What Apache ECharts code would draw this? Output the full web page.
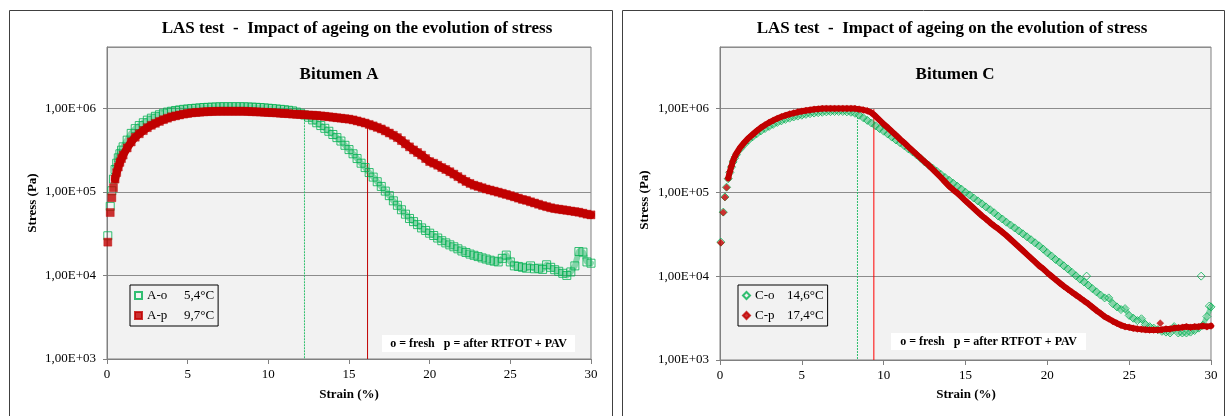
<!DOCTYPE html>
<html>
<head>
<meta charset="utf-8">
<script src="https://cdn.jsdelivr.net/npm/echarts@6.0.0/dist/echarts.min.js"></script>
<style>
html,body{margin:0;padding:0;background:#fff;}
#c{width:1227px;height:416px;}
</style>
</head>
<body>
<div id="c"></div>
<script>
// ---------- DATA ----------
const strain = [0.05,0.2,0.3,0.4,0.5,0.6,0.7,0.8,0.9,
  1,1.25,1.5,1.75, 2,2.25,2.5,2.75, 3,3.25,3.5,3.75, 4,4.25,4.5,4.75,
  5,5.25,5.5,5.75, 6,6.25,6.5,6.75, 7,7.25,7.5,7.75, 8,8.25,8.5,8.75,
  9,9.25,9.5,9.75, 10,10.25,10.5,10.75, 11,11.25,11.5,11.75, 12,12.25,12.5,12.75,
  13,13.25,13.5,13.75, 14,14.25,14.5,14.75, 15,15.25,15.5,15.75, 16,16.25,16.5,16.75,
  17,17.25,17.5,17.75, 18,18.25,18.5,18.75, 19,19.25,19.5,19.75, 20,20.25,20.5,20.75,
  21,21.25,21.5,21.75, 22,22.25,22.5,22.75, 23,23.25,23.5,23.75, 24,24.25,24.5,24.75,
  25,25.25,25.5,25.75, 26,26.25,26.5,26.75, 27,27.25,27.5,27.75, 28,28.25,28.5,28.75,
  29,29.25,29.5,29.75, 30];

// Bitumen A - fresh (A-o, 5,4°C)
const stressAo = [2.98e4,6.7e4,1.03e5,1.42e5,1.85e5,2.2e5,2.55e5,2.85e5,3.15e5,
  3.45e5,4.15e5,5.0e5,5.7e5, 6.2e5,6.7e5,7.2e5,7.6e5, 8.0e5,8.35e5,8.7e5,9.0e5,
  9.2e5,9.4e5,9.55e5,9.7e5, 9.8e5,9.9e5,1.0e6,1.01e6, 1.02e6,1.025e6,1.03e6,1.035e6,
  1.04e6,1.04e6,1.04e6,1.04e6, 1.04e6,1.04e6,1.04e6,1.035e6, 1.03e6,1.025e6,1.02e6,1.01e6,
  1.0e6,9.9e5,9.8e5,9.7e5, 9.6e5,9.45e5,9.3e5,9.0e5, 8.7e5,8.3e5,7.8e5,7.25e5,
  6.7e5,6.2e5,5.75e5,5.3e5, 4.85e5,4.45e5,4.05e5,3.6e5, 3.2e5,2.85e5,2.5e5,2.2e5,
  1.95e5,1.7e5,1.5e5,1.32e5, 1.16e5,1.02e5,9.0e4,7.8e4, 6.9e4,6.1e4,5.4e4,4.8e4,
  4.4e4,4.05e4,3.7e4,3.45e4, 3.2e4,3.0e4,2.8e4,2.6e4, 2.45e4,2.32e4,2.2e4,2.08e4,
  1.96e4,1.88e4,1.8e4,1.74e4, 1.68e4,1.62e4,1.57e4,1.52e4, 1.48e4,1.45e4,1.6e4,1.75e4,
  1.45e4,1.3e4,1.28e4,1.25e4, 1.22e4,1.3e4,1.2e4,1.22e4, 1.18e4,1.34e4,1.25e4,1.17e4,
  1.12e4,1.06e4,1.0e4,1.1e4, 1.3e4,1.93e4,1.9e4,1.45e4, 1.4e4];

// Bitumen A - aged (A-p, 9,7°C)
const stressAp = [2.5e4,5.65e4,8.5e4,1.12e5,1.42e5,1.7e5,1.98e5,2.25e5,2.5e5,
  2.75e5,3.35e5,3.95e5,4.5e5, 4.95e5,5.4e5,5.85e5,6.25e5, 6.6e5,6.95e5,7.3e5,7.6e5,
  7.9e5,8.1e5,8.3e5,8.5e5, 8.65e5,8.8e5,8.9e5,8.96e5, 9.05e5,9.1e5,9.15e5,9.18e5,
  9.2e5,9.2e5,9.2e5,9.2e5, 9.2e5,9.2e5,9.2e5,9.15e5, 9.1e5,9.05e5,9.0e5,8.95e5,
  8.9e5,8.85e5,8.8e5,8.7e5, 8.65e5,8.6e5,8.5e5,8.45e5, 8.4e5,8.35e5,8.3e5,8.25e5,
  8.2e5,8.1e5,8.0e5,7.9e5, 7.8e5,7.7e5,7.6e5,7.5e5, 7.4e5,7.25e5,7.05e5,6.85e5,
  6.65e5,6.4e5,6.15e5,5.9e5, 5.65e5,5.35e5,5.05e5,4.75e5, 4.45e5,4.1e5,3.75e5,3.45e5,
  3.17e5,2.95e5,2.75e5,2.5e5, 2.3e5,2.2e5,2.08e5,1.95e5, 1.85e5,1.74e5,1.63e5,1.52e5,
  1.42e5,1.33e5,1.26e5,1.2e5, 1.16e5,1.12e5,1.08e5,1.05e5, 1.02e5,9.9e4,9.6e4,9.3e4,
  9.0e4,8.7e4,8.4e4,8.1e4, 7.9e4,7.6e4,7.35e4,7.1e4, 6.85e4,6.65e4,6.45e4,6.3e4,
  6.2e4,6.1e4,6.0e4,5.9e4, 5.8e4,5.7e4,5.55e4,5.4e4, 5.3e4];

// Bitumen C - fresh (C-o, 14,6°C)
const stressCo = [2.55e4,5.8e4,8.8e4,1.15e5,1.45e5,1.72e5,2.0e5,2.3e5,2.55e5,
  2.8e5,3.3e5,3.75e5,4.2e5, 4.6e5,5.0e5,5.4e5,5.75e5, 6.1e5,6.45e5,6.8e5,7.1e5,
  7.4e5,7.65e5,7.9e5,8.1e5, 8.3e5,8.5e5,8.65e5,8.8e5, 8.9e5,9.0e5,9.1e5,9.15e5,
  9.2e5,9.2e5,9.2e5,9.1e5, 9.0e5,8.75e5,8.3e5,7.75e5, 7.2e5,6.7e5,6.2e5,5.75e5,
  5.35e5,4.95e5,4.55e5,4.2e5, 3.9e5,3.6e5,3.3e5,3.05e5, 2.8e5,2.55e5,2.3e5,2.1e5,
  1.93e5,1.78e5,1.63e5,1.5e5, 1.39e5,1.28e5,1.18e5,1.09e5, 1.0e5,9.3e4,8.55e4,7.9e4,
  7.3e4,6.7e4,6.2e4,5.7e4, 5.2e4,4.8e4,4.4e4,4.07e4, 3.76e4,3.47e4,3.2e4,2.95e4,
  2.72e4,2.5e4,2.3e4,2.1e4, 1.9e4,1.74e4,1.58e4,1.46e4, 1.33e4,1.22e4,1.11e4,1.01e4,
  9.2e3,8.5e3,7.8e3,7.1e3, 6.5e3,5.95e3,5.5e3,5.5e3, 4.7e3,4.3e3,4.0e3,4.1e3,
  3.4e3,3.15e3,2.95e3,3.1e3, 2.65e3,2.5e3,2.4e3,2.3e3, 2.2e3,2.15e3,2.1e3,2.5e3,
  2.1e3,2.1e3,2.1e3,2.15e3, 2.25e3,2.4e3,2.6e3,3.3e3, 4.3e3];
// isolated C-o points off the band: [strain, stress]
const outliersCo = [[22.4, 1.0e4], [29.4, 1.0e4], [29.9, 4.4e3]];

// Bitumen C - aged (C-p, 17,4°C)
const stressCp = [2.5e4,5.75e4,8.7e4,1.14e5,1.47e5,1.76e5,2.05e5,2.38e5,2.65e5,
  2.9e5,3.45e5,3.95e5,4.45e5, 4.9e5,5.4e5,5.9e5,6.35e5, 6.8e5,7.2e5,7.6e5,7.95e5,
  8.25e5,8.55e5,8.8e5,9.05e5, 9.25e5,9.45e5,9.6e5,9.75e5, 9.85e5,9.95e5,1.0e6,1.0e6,
  1.0e6,1.0e6,1.0e6,1.0e6, 1.0e6,9.95e5,9.8e5,9.6e5, 9.35e5,8.9e5,8.1e5,7.25e5,
  6.5e5,5.9e5,5.3e5,4.8e5, 4.3e5,3.9e5,3.5e5,3.16e5, 2.85e5,2.57e5,2.32e5,2.1e5,
  1.88e5,1.68e5,1.5e5,1.33e5, 1.18e5,1.07e5,9.8e4,8.8e4, 7.9e4,7.15e4,6.45e4,5.8e4,
  5.25e4,4.8e4,4.35e4,3.98e4, 3.67e4,3.35e4,3.05e4,2.75e4, 2.48e4,2.24e4,2.02e4,1.82e4,
  1.64e4,1.48e4,1.33e4,1.22e4, 1.1e4,1.0e4,9.1e3,8.3e3, 7.6e3,7.0e3,6.45e3,5.95e3,
  5.5e3,5.07e3,4.68e3,4.27e3, 3.9e3,3.6e3,3.3e3,3.1e3, 2.9e3,2.74e3,2.6e3,2.5e3,
  2.45e3,2.39e3,2.35e3,2.32e3, 2.3e3,2.28e3,2.28e3,2.28e3, 2.3e3,2.35e3,2.35e3,2.4e3,
  2.42e3,2.45e3,2.5e3,2.45e3, 2.5e3,2.5e3,2.55e3,2.5e3, 2.55e3];
const outliersCp = [[26.9, 2.75e3]];

// Failure strain markers: [strain, stress at curve]
const failA_o = [12.24, 8.7e5];
const failA_p = [16.15, 5.8e5];
const failC_o = [8.4, 7.9e5];
const failC_p = [9.4, 9.8e5];

const namesA = ['A-o', 'A-p'];
const tempsA = ['5,4°C', '9,7°C'];
const namesC = ['C-o', 'C-p'];
const tempsC = ['14,6°C', '17,4°C'];

const xTicks = [0, 5, 10, 15, 20, 25, 30];
const yTickExp = [3, 4, 5, 6];
const yTickLabels = ['1,00E+03', '1,00E+04', '1,00E+05', '1,00E+06'];

const mainTitle = 'LAS test  -  Impact of ageing on the evolution of stress';
const subA = 'Bitumen A';
const subC = 'Bitumen C';
const yName = 'Stress (Pa)';
const xName = 'Strain (%)';
const noteText = 'o = fresh   p = after RTFOT + PAV';

// ---------- CHART ----------
const FF = '"Liberation Serif", "Times New Roman", serif';
const GREEN = '#00B050';
const DARKRED = '#C00000';
const BAND_START = 4; // first points are sparse; the continuous band starts here

const pairs = (ys) => strain.map((s, i) => [s, ys[i]]);

function yFmt(v) {
  const e = Math.log10(v);
  const r = Math.round(e);
  if (Math.abs(e - r) > 1e-6) return '';
  const i = yTickExp.indexOf(r);
  return i >= 0 ? yTickLabels[i] : '';
}

function xAxisCfg(gi) {
  return {
    type: 'value', gridIndex: gi, min: xTicks[0], max: xTicks[xTicks.length - 1], interval: 5,
    axisLine: { show: true, lineStyle: { color: '#808080', width: 1 } },
    axisTick: { show: true, inside: false, length: 5, lineStyle: { color: '#808080' } },
    splitLine: { show: false },
    axisLabel: { fontFamily: FF, fontSize: 13, color: '#000', margin: 9 }
  };
}
function yAxisCfg(gi) {
  return {
    type: 'log', logBase: 10, gridIndex: gi, min: 1000, max: 5.4e6,
    axisLine: { show: true, lineStyle: { color: '#808080', width: 1 } },
    axisTick: { show: true, inside: false, length: 4, lineStyle: { color: '#808080' } },
    splitLine: { show: true, lineStyle: { color: '#8c8c8c', width: 1 } },
    axisLabel: { fontFamily: FF, fontSize: 13, color: '#000', margin: 11, formatter: yFmt, showMaxLabel: false }
  };
}

function legendCfg(names, temps, left, nameW) {
  const map = {};
  names.forEach((n, i) => map[n] = temps[i]);
  return {
    data: names, orient: 'vertical', left: left, top: 285,
    borderColor: '#000', borderWidth: 1, padding: [3, 4, 3, 4], itemGap: 5,
    itemWidth: 7, itemHeight: 7, backgroundColor: 'rgba(0,0,0,0)',
    selectedMode: false,
    formatter: (n) => '{n|' + n + '}{t|' + map[n] + '}',
    textStyle: {
      fontFamily: FF, fontSize: 13, color: '#000', lineHeight: 15,
      rich: { n: { width: nameW, fontFamily: FF, fontSize: 13, color: '#000' },
              t: { fontFamily: FF, fontSize: 13, color: '#000' } }
    }
  };
}

function scatter(name, gi, data, symbol, size, hollow, color, z) {
  return {
    name: name, type: 'scatter', xAxisIndex: gi, yAxisIndex: gi,
    data: data, symbol: symbol, symbolSize: size, z: z,
    itemStyle: hollow ? { color: 'rgba(0,0,0,0)', borderColor: color, borderWidth: 1 }
                      : { color: color, borderColor: color, borderWidth: 0.5 },
    emphasis: { disabled: true }, silent: true, animation: false
  };
}
// dense-band underlay joining the same measured points
function band(gi, ys, color, width, z) {
  return {
    type: 'line', xAxisIndex: gi, yAxisIndex: gi, data: pairs(ys).slice(BAND_START),
    symbol: 'none', showSymbol: false, smooth: false, z: z,
    lineStyle: { color: color, width: width, cap: 'round', join: 'round' },
    silent: true, animation: false
  };
}
function vline(gi, f, color, dash) {
  return {
    type: 'line', xAxisIndex: gi, yAxisIndex: gi, data: [[f[0], f[1]], [f[0], 1000]],
    symbol: 'none', lineStyle: { color: color, width: 1, type: dash },
    silent: true, animation: false, z: 1
  };
}

function txt(x, y, text, font, extra) {
  return Object.assign({
    type: 'text', x: x, y: y, z: 100,
    style: { text: text, font: font, fill: '#000', textAlign: 'center', textVerticalAlign: 'middle',
             align: 'center', verticalAlign: 'middle' }
  }, extra || {});
}

const option = {
  animation: false,
  backgroundColor: '#fff',
  grid: [
    { left: 107, top: 47, width: 484, height: 312, show: true, backgroundColor: '#F2F2F2', borderColor: '#808080', borderWidth: 1 },
    { left: 720, top: 47, width: 491, height: 313, show: true, backgroundColor: '#F2F2F2', borderColor: '#808080', borderWidth: 1 }
  ],
  xAxis: [xAxisCfg(0), xAxisCfg(1)],
  yAxis: [yAxisCfg(0), yAxisCfg(1)],
  legend: [legendCfg(namesA, tempsA, 130, 37), legendCfg(namesC, tempsC, 738, 32)],
  series: [
    vline(0, failA_o, '#2fbf6c', [2, 1]),
    vline(0, failA_p, '#C00000', 'solid'),
    band(0, stressAo, 'rgba(0,176,80,0.45)', 6, 2),
    scatter(namesA[0], 0, pairs(stressAo), 'rect', 8, true, GREEN, 3),
    band(0, stressAp, DARKRED, 8, 4),
    scatter(namesA[1], 0, pairs(stressAp), 'rect', 8, false, DARKRED, 5),
    vline(1, failC_o, '#2fbf6c', [2, 1]),
    vline(1, failC_p, '#FF0000', 'solid'),
    band(1, stressCo, 'rgba(0,176,80,0.45)', 5, 2),
    scatter(namesC[0], 1, pairs(stressCo), 'diamond', 8, true, GREEN, 3),
    scatter(namesC[0], 1, outliersCo, 'diamond', 8, true, GREEN, 3),
    band(1, stressCp, DARKRED, 6, 4),
    scatter(namesC[1], 1, pairs(stressCp), 'diamond', 7, false, DARKRED, 5),
    scatter(namesC[1], 1, outliersCp, 'diamond', 7, false, DARKRED, 5)
  ],
  graphic: { elements: [
    { type: 'rect', shape: { x: 9.5, y: 10.5, width: 603, height: 420 }, style: { fill: 'none', stroke: '#404040', lineWidth: 1 }, z: 50 },
    { type: 'rect', shape: { x: 622.5, y: 10.5, width: 602, height: 420 }, style: { fill: 'none', stroke: '#404040', lineWidth: 1 }, z: 50 },
    txt(357, 29, mainTitle, 'bold 17px ' + FF),
    txt(952, 29, mainTitle, 'bold 17px ' + FF),
    txt(339, 75, subA, 'bold 17px ' + FF),
    txt(955, 75, subC, 'bold 17px ' + FF),
    txt(33, 203, yName, 'bold 13px ' + FF, { rotation: Math.PI / 2 }),
    txt(645, 200, yName, 'bold 13px ' + FF, { rotation: Math.PI / 2 }),
    txt(349, 395, xName, 'bold 13px ' + FF),
    txt(966, 395, xName, 'bold 13px ' + FF),
    { type: 'rect', z: 99, shape: { x: 382, y: 335, width: 193, height: 17 }, style: { fill: '#fff' } },
    txt(478.5, 343.5, noteText, 'bold 12px ' + FF),
    { type: 'rect', z: 99, shape: { x: 891, y: 333, width: 195, height: 17 }, style: { fill: '#fff' } },
    txt(988.5, 341.5, noteText, 'bold 12px ' + FF)
  ]}
};

const chart = echarts.init(document.getElementById('c'), null, { renderer: 'canvas' });
chart.setOption(option);
</script>
</body>
</html>
